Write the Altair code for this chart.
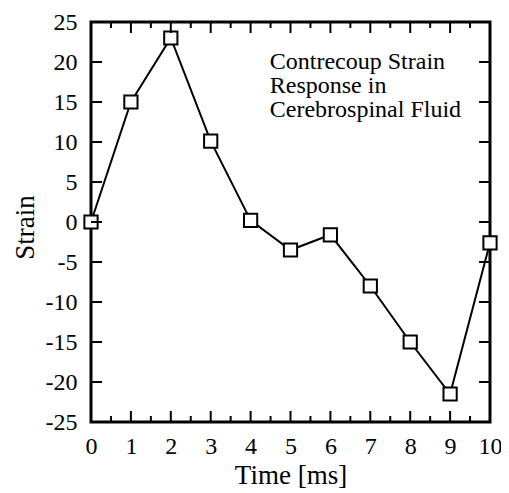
import altair as alt
import pandas as pd

# Data
time_ms = [0, 1, 2, 3, 4, 5, 6, 7, 8, 9, 10]
strain = [0.0, 15.0, 23.0, 10.1, 0.2, -3.5, -1.6, -8.0, -15.0, -21.5, -2.6]

x_major = [0, 1, 2, 3, 4, 5, 6, 7, 8, 9, 10]
x_minor = [0.5, 1.5, 2.5, 3.5, 4.5, 5.5, 6.5, 7.5, 8.5, 9.5]
y_major = [-25, -20, -15, -10, -5, 0, 5, 10, 15, 20, 25]
y_inner = [-20, -15, -10, -5, 0, 5, 10, 15, 20]

note_lines = ["Contrecoup Strain", "Response in", "Cerebrospinal Fluid"]
note_x = [4.48]
note_y = [19.1]

W, H = 399, 400
FONT = "Liberation Serif"

df = pd.DataFrame({"t": time_ms, "s": strain})
xs = alt.Scale(domain=[0, 10], nice=False, zero=False)
ys = alt.Scale(domain=[-25, 25], nice=False, zero=False)

x_axis = alt.Axis(values=x_major, grid=False, domain=False, ticks=False,
                  labelFont=FONT, labelFontSize=24, labelColor="black",
                  labelPadding=12, labelFlush=False, labelOverlap=False,
                  title="Time [ms]", titleFont=FONT, titleFontSize=27,
                  titleFontWeight="normal", titleColor="black",
                  titleBaseline="alphabetic", titleY=61, titleX=W / 2)
y_axis = alt.Axis(values=y_major, grid=False, domain=False, ticks=False,
                  labelFont=FONT, labelFontSize=24, labelColor="black",
                  labelPadding=14, labelFlush=False, labelOverlap=False,
                  labelExpr="toString(datum.value)",
                  title="Strain", titleFont=FONT, titleFontSize=27,
                  titleFontWeight="normal", titleColor="black",
                  titleAngle=-90, titleBaseline="alphabetic",
                  titleX=-58, titleY=205, titleAlign="center")

def X(field):
    return alt.X(field, scale=xs, axis=x_axis, title="Time [ms]")

def Y(field):
    return alt.Y(field, scale=ys, axis=y_axis, title="Strain")

line = alt.Chart(df).mark_line(color="black", strokeWidth=2).encode(
    x=X("t:Q"), y=Y("s:Q"))
pts = alt.Chart(df).mark_point(shape="square", filled=True, fill="white",
                               stroke="black", strokeWidth=2, size=175,
                               opacity=1).encode(x=X("t:Q"), y=Y("s:Q"))

majx = pd.DataFrame({"v": x_major})
minx = pd.DataFrame({"v": x_minor})
iny = pd.DataFrame({"v": y_inner})

def xticks(d, length):
    bot = alt.Chart(d).mark_rule(color="black", strokeWidth=2).encode(
        x=X("v:Q"), y=alt.value(H), y2=alt.value(H - length))
    top = alt.Chart(d).mark_rule(color="black", strokeWidth=2).encode(
        x=X("v:Q"), y=alt.value(0), y2=alt.value(length))
    return [bot, top]

yl = alt.Chart(iny).mark_rule(color="black", strokeWidth=2).encode(
    y=Y("v:Q"), x=alt.value(0), x2=alt.value(11))
yr = alt.Chart(iny).mark_rule(color="black", strokeWidth=2).encode(
    y=Y("v:Q"), x=alt.value(W), x2=alt.value(W - 11))

note_df = pd.DataFrame({"x": note_x, "y": note_y, "txt": [note_lines]})
note = alt.Chart(note_df).mark_text(align="left", baseline="alphabetic",
                                    font=FONT, fontSize=24, lineHeight=24,
                                    color="black").encode(
    x=X("x:Q"), y=Y("y:Q"), text="txt")

layers = [line, pts] + xticks(majx, 11) + xticks(minx, 6) + [yl, yr, note]
chart = alt.layer(*layers).properties(
    width=W, height=H,
    autosize=alt.AutoSizeParams(type="none"),
    padding={"left": 83, "top": 14, "right": 11, "bottom": 66},
    background="white",
).configure_view(stroke="black", strokeWidth=3)

chart.save("out.html", embed_options={"renderer": "svg", "actions": False})
